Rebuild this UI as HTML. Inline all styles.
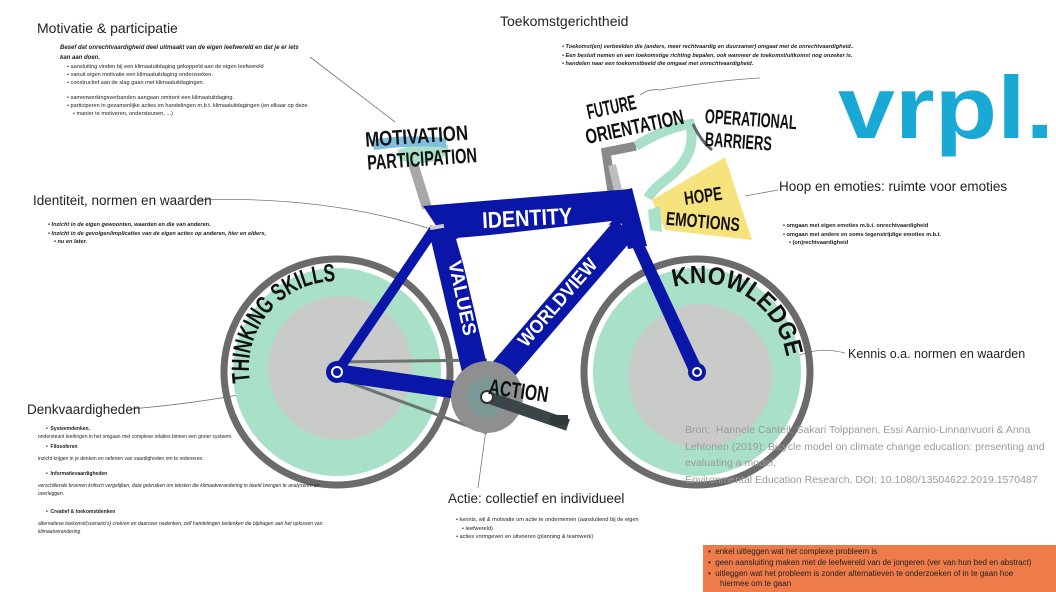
<!DOCTYPE html>
<html><head><meta charset="utf-8"><style>
*{margin:0;padding:0;box-sizing:border-box}
body{width:1056px;height:592px;overflow:hidden;background:#fff;font-family:"Liberation Sans",sans-serif;color:#222;position:relative}
.a{position:absolute;white-space:nowrap}
.h{font-size:13.5px;color:#222}
.s{font-size:5.6px;line-height:7.8px}
.bi{font-weight:bold;font-style:italic}
ul{list-style:none}
li:before{content:"• ";}
.src{font-size:10.5px;color:#9a9a9a;line-height:16.5px}
.big{font-family:"Liberation Sans",sans-serif;font-weight:bold}
</style></head><body>

<svg class="a" style="left:0;top:0" width="1056" height="592" viewBox="0 0 1056 592">
<g fill="none" stroke="#777" stroke-width="0.8">
<path d="M310 57 L395 122"/>
<path d="M195 200 Q330 195 440 232"/>
<path d="M130 409 Q240 400 337 372"/>
<path d="M490 400 L478 488"/>
<path d="M697 372 Q740 400 790 360 Q815 345 845 353"/>
<path d="M745 196 L778 190"/>
<path d="M640 95 Q650 88 660 90 Q720 80 760 78"/>
</g>
<circle cx="337" cy="372" r="113" fill="none" stroke="#6b6b6b" stroke-width="7"/>
<circle cx="337" cy="372" r="104" fill="#a9e0c8"/>
<circle cx="340" cy="368" r="72" fill="#c9cbc9"/>
<circle cx="697" cy="372" r="113" fill="none" stroke="#6b6b6b" stroke-width="7"/>
<circle cx="697" cy="372" r="104" fill="#a9e0c8"/>
<circle cx="700" cy="376" r="72" fill="#c9cbc9"/>
<path d="M337 362 L487 360 M343 380 L487 433" stroke="#6d7370" stroke-width="3" fill="none"/>
<path d="M427 208 L412 160" stroke="#a8a8a8" stroke-width="10"/>
<path d="M398 150 Q420 140 448 145 Q450 158 430 162 Q410 166 398 158Z" fill="#a9e0c8"/>
<path d="M372 140 Q400 134 446 138 L446 148 Q420 144 374 150Z" fill="#7fbfe0"/>
<path d="M612 192 L606 152 L636 146" stroke="#8a8a8a" stroke-width="9" fill="none"/>
<path d="M618 190 L612 165" stroke="#bdbdbd" stroke-width="8"/>
<path d="M636 146 Q665 128 690 124 Q698 155 668 178 Q652 190 648 198" stroke="#a9e0c8" stroke-width="10" fill="none"/>
<path d="M693 124 Q700 140 712 150" stroke="#5a6a6a" stroke-width="3" fill="none"/>
<polygon points="652,200 725,157 752,240 665,230" fill="#f7e37e"/>
<polygon points="648,210 660,206 662,232 650,230" fill="#a9e0c8"/>
<g fill="#0a16a8" stroke="none">
<polygon points="423,206 630,189 640,222 445,239"/>
<polygon points="614,193 632,188 647,246 628,249"/>
<path d="M441 226 L480 392" stroke="#0a16a8" stroke-width="26"/>
<path d="M625 228 L490 385" stroke="#0a16a8" stroke-width="26"/>
<path d="M435 228 L337 372" stroke="#0a16a8" stroke-width="10"/>
<path d="M337 364 L470 383 L478 402 L340 382Z"/>
<path d="M632 246 L645 246 L702 368 L690 374Z"/>
<circle cx="337" cy="372" r="11"/>
<circle cx="697" cy="372" r="9"/>
</g>
<polygon points="456,239 612,221 490,357" fill="#fff"/>
<circle cx="337" cy="372" r="6" fill="#fff"/><circle cx="337" cy="372" r="4" fill="#0a16a8"/>
<circle cx="697" cy="372" r="5" fill="#fff"/><circle cx="697" cy="372" r="3" fill="#0a16a8"/>
<rect x="430" y="225" width="14" height="4" fill="#ccc" transform="rotate(-10 437 227)"/>
<circle cx="487" cy="397" r="36" fill="#8f8f8f"/>
<circle cx="487" cy="397" r="20" fill="#7c9896"/>
<path d="M487 397 L568 425" stroke="#3b4448" stroke-width="12"/>
<rect x="550" y="415" width="18" height="10" fill="#2f383b"/>
<circle cx="487" cy="397" r="6" fill="#fff" stroke="#333" stroke-width="2"/>
<defs>
<path id="ts" d="M250 382 A87 87 0 0 1 374 290"/>
<path id="kn" d="M674 287 A88 88 0 0 1 787 382"/>
</defs>
<text class="big" font-size="25" fill="#111"><textPath href="#ts" textLength="150" lengthAdjust="spacingAndGlyphs">THINKING SKILLS</textPath></text>
<text class="big" font-size="25" fill="#111"><textPath href="#kn" textLength="150" lengthAdjust="spacingAndGlyphs">KNOWLEDGE</textPath></text>
<g class="big" fill="#111">
<text x="482" y="226" font-size="23" fill="#fff" textLength="90" lengthAdjust="spacingAndGlyphs" transform="rotate(-3 525 215)">IDENTITY</text>
<g transform="translate(463,298) rotate(78)"><text x="-38" y="7" font-size="19" fill="#fff" textLength="76" lengthAdjust="spacingAndGlyphs">VALUES</text></g>
<g transform="translate(557,302) rotate(-49)"><text x="-55" y="7" font-size="19" fill="#fff" textLength="110" lengthAdjust="spacingAndGlyphs">WORLDVIEW</text></g>
<text x="489" y="398" font-size="22" textLength="60" lengthAdjust="spacingAndGlyphs" transform="rotate(8 518 388)">ACTION</text>
<text x="365" y="143" font-size="21" textLength="103" lengthAdjust="spacingAndGlyphs" transform="rotate(-4 420 135)">MOTIVATION</text>
<text x="367" y="166" font-size="21" textLength="110" lengthAdjust="spacingAndGlyphs" transform="rotate(-4 422 158)">PARTICIPATION</text>
<text x="586" y="114" font-size="21" textLength="50" lengthAdjust="spacingAndGlyphs" transform="rotate(-12 612 105)">FUTURE</text>
<text x="584" y="134" font-size="21" textLength="100" lengthAdjust="spacingAndGlyphs" transform="rotate(-12 634 124)">ORIENTATION</text>
<text x="705" y="126" font-size="20" textLength="92" lengthAdjust="spacingAndGlyphs" transform="rotate(4 750 118)">OPERATIONAL</text>
<text x="705" y="148" font-size="20" textLength="67" lengthAdjust="spacingAndGlyphs" transform="rotate(4 735 140)">BARRIERS</text>
<text x="684" y="202" font-size="19" textLength="38" lengthAdjust="spacingAndGlyphs" transform="rotate(-8 705 195)">HOPE</text>
<text x="666" y="228" font-size="19" textLength="74" lengthAdjust="spacingAndGlyphs" transform="rotate(5 703 220)">EMOTIONS</text>
</g>
<text x="838" y="138" font-size="88" font-weight="bold" fill="#1aa8d4" textLength="216" lengthAdjust="spacingAndGlyphs">vrpl.</text>
</svg>

<div class="a h" style="left:37px;top:20px;font-size:14px">Motivatie &amp; participatie</div>
<div class="a s bi" style="left:60px;top:43px;font-size:6px;line-height:10px">Besef dat onrechtvaardigheid deel uitmaakt van de eigen leefwereld en dat je er iets<br>kan aan doen.</div>
<ul class="a s" style="left:67px;top:64px">
<li>aansluiting vinden bij een klimaatuitdaging gekoppeld aan de eigen leefwereld</li>
<li>vanuit eigen motivatie een klimaatuitdaging onderzoeken.</li>
<li>constructief aan de slag gaan met klimaatuitdagingen.</li>
<li style="margin-top:8px">samenwerkingsverbanden aangaan omtrent een klimaatuitdaging.</li>
<li>participeren in gezamenlijke acties en handelingen m.b.t. klimaatuitdagingen (en elkaar op deze</li>
<li style="padding-left:6px">manier te motiveren, ondersteunen, ...)</li>
</ul>

<div class="a h" style="left:500px;top:13px;font-size:14px">Toekomstgerichtheid</div>
<ul class="a s bi" style="left:562px;top:43px;line-height:8.6px">
<li>Toekomst(en) verbeelden die (anders, meer rechtvaardig en duurzamer) omgaat met de onrechtvaardigheid..</li>
<li>Een besluit nemen en een toekomstige richting bepalen, ook wanneer de toekomst/uitkomst nog onzeker is.</li>
<li>handelen naar een toekomstbeeld die omgaat met onrechtvaardigheid.</li>
</ul>

<div class="a h" style="left:33px;top:193px">Identiteit, normen en waarden</div>
<ul class="a s bi" style="left:48px;top:221px;line-height:8.5px">
<li>Inzicht in de eigen gewoonten, waarden en die van anderen.</li>
<li>Inzicht in de gevolgen/implicaties van de eigen acties op anderen, hier en elders,</li>
<li style="padding-left:6px">nu en later.</li>
</ul>

<div class="a h" style="left:779px;top:179px">Hoop en emoties: ruimte voor emoties</div>
<ul class="a s" style="left:783px;top:222px;font-weight:bold;line-height:8.5px">
<li>omgaan met eigen emoties m.b.t. onrechtvaardigheid</li>
<li>omgaan met andere en soms tegenstrijdige emoties m.b.t.</li>
<li style="padding-left:6px">(on)rechtvaardigheid</li>
</ul>

<div class="a h" style="left:848px;top:347px;font-size:12.5px">Kennis o.a. normen en waarden</div>

<div class="a h" style="left:27px;top:402px">Denkvaardigheden</div>
<div class="a s" style="left:38px;top:425px;font-size:5px;line-height:8px">
<div style="padding-left:8px;font-weight:bold">•&nbsp; Systeemdenken.</div>
<div>ondersteunt leerlingen in het omgaan met complexe relaties binnen een groter systeem.</div>
<div style="padding-left:8px;font-weight:bold;margin-top:2px">•&nbsp; Filosoferen</div>
<div style="margin-top:4px">inzicht krijgen in je denken en oefenen van vaardigheden om te redeneren.</div>
<div style="padding-left:8px;font-weight:bold;margin-top:7px">•&nbsp; Informatievaardigheden</div>
<div style="font-style:italic;margin-top:4px">verschillende bronnen kritisch vergelijken, data gebruiken om teksten die klimaatverandering in beeld brengen te analyseren en<br>overleggen.</div>
<div style="padding-left:8px;font-weight:bold;margin-top:10px">•&nbsp; Creatief &amp; toekomstdenken</div>
<div style="font-style:italic;margin-top:4px">alternatieve toekomst(scenario's) creëren en daarover nadenken, zelf handelingen bedenken die bijdragen aan het oplossen van<br>klimaatverandering</div>
</div>

<div class="a h" style="left:448px;top:491px">Actie: collectief en individueel</div>
<ul class="a s" style="left:456px;top:516px;line-height:8.5px">
<li>kennis, wil &amp; motivatie om actie te ondernemen (aansluitend bij de eigen</li>
<li style="padding-left:6px">leefwereld)</li>
<li>acties vormgeven en uitvoeren (planning &amp; teamwerk)</li>
</ul>

<div class="a src" style="left:685px;top:422px">Bron:&nbsp; Hannele Cantell, Sakari Tolppanen, Essi Aarnio-Linnanvuori &amp; Anna<br>Lehtonen (2019): Bicycle model on climate change education: presenting and<br>evaluating a model,<br>Environmental Education Research, DOI: 10.1080/13504622.2019.1570487</div>

<div class="a" style="left:703px;top:545px;width:353px;height:47px;background:#ee7c4a;font-size:8px;line-height:10.8px;color:#222;padding:2px 0 0 5px;white-space:normal">
<div>•&nbsp; enkel uitleggen wat het complexe probleem is</div>
<div>•&nbsp; geen aansluiting maken met de leefwereld van de jongeren (ver van hun bed en abstract)</div>
<div>•&nbsp; uitleggen wat het probleem is zonder alternatieven te onderzoeken of in te gaan hoe</div>
<div style="padding-left:12px">hiermee om te gaan</div>
</div>
</body></html>
